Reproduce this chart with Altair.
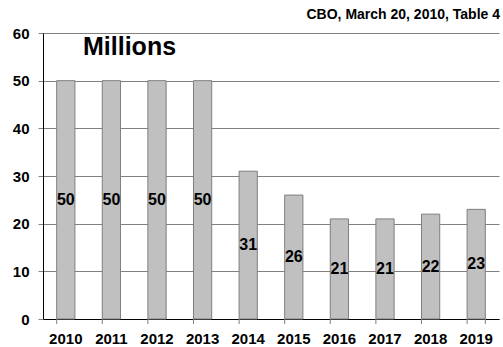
import altair as alt
import pandas as pd

years = ["2010", "2011", "2012", "2013", "2014", "2015", "2016", "2017", "2018", "2019"]
values = [50, 50, 50, 50, 31, 26, 21, 21, 22, 23]
y_ticks = [0, 10, 20, 30, 40, 50, 60]
unit_label = ["Millions"]
source_label = ["CBO, March 20, 2010, Table 4"]

df = pd.DataFrame({"year": years, "value": values})

W, H = 456, 286
LABEL_FONT = "Arial, Liberation Sans, sans-serif"

xscale = alt.Scale(paddingInner=0.6, paddingOuter=0.3)
yscale = alt.Scale(domain=[0, 60], nice=False)

base = alt.Chart(df)

bars = base.mark_bar(fill="#c0c0c0", stroke="#7f7f7f", strokeWidth=1).encode(
    x=alt.X("year:O", scale=xscale, sort=years,
            axis=alt.Axis(title=None, labelAngle=0, labelFont=LABEL_FONT,
                          labelFontSize=15, labelFontWeight="bold",
                          labelColor="black", domainColor="black",
                          tickSize=5, tickOpacity=0, labelPadding=7)),
    y=alt.Y("value:Q", scale=yscale,
            axis=alt.Axis(title=None, values=y_ticks, labelFont=LABEL_FONT,
                          labelFontSize=15, labelFontWeight="bold",
                          labelColor="black", domainColor="black",
                          tickSize=5, tickColor="#808080", gridColor="#808080",
                          grid=True, labelPadding=9)),
)

labels = base.transform_calculate(mid="datum.value / 2").mark_text(
    font=LABEL_FONT, fontSize=16, fontWeight="bold", color="black",
    baseline="middle", align="center"
).encode(
    x=alt.X("year:O", sort=years),
    y=alt.Y("mid:Q"),
    text="value:Q",
)

ticks = base.mark_rule(color="#808080").encode(
    x=alt.X("year:O", sort=years, bandPosition=0),
    y=alt.value(H),
    y2=alt.value(H + 5),
)

last_df = pd.DataFrame({"year": [years[-1]]})
tick_end = alt.Chart(last_df).mark_rule(color="#808080").encode(
    x=alt.X("year:O", sort=years, bandPosition=1),
    y=alt.value(H),
    y2=alt.value(H + 5),
)

unit = alt.Chart(pd.DataFrame({"t": unit_label})).mark_text(
    font=LABEL_FONT, fontSize=25, fontWeight="bold", color="black",
    align="left", baseline="alphabetic"
).encode(text="t:N", x=alt.value(40), y=alt.value(22))

source = alt.Chart(pd.DataFrame({"t": source_label})).mark_text(
    font=LABEL_FONT, fontSize=14, fontWeight="bold", color="black",
    align="right", baseline="alphabetic"
).encode(text="t:N", x=alt.value(W + 1), y=alt.value(-14))

chart = alt.layer(bars, labels, ticks, tick_end, unit, source).properties(
    width=W, height=H,
    autosize=alt.AutoSizeParams(type="none"),
    padding={"left": 43, "top": 33, "right": 4, "bottom": 28},
    background="white",
).configure_view(stroke=None)

chart.save("out.html", embed_options={"renderer": "svg", "actions": False})
